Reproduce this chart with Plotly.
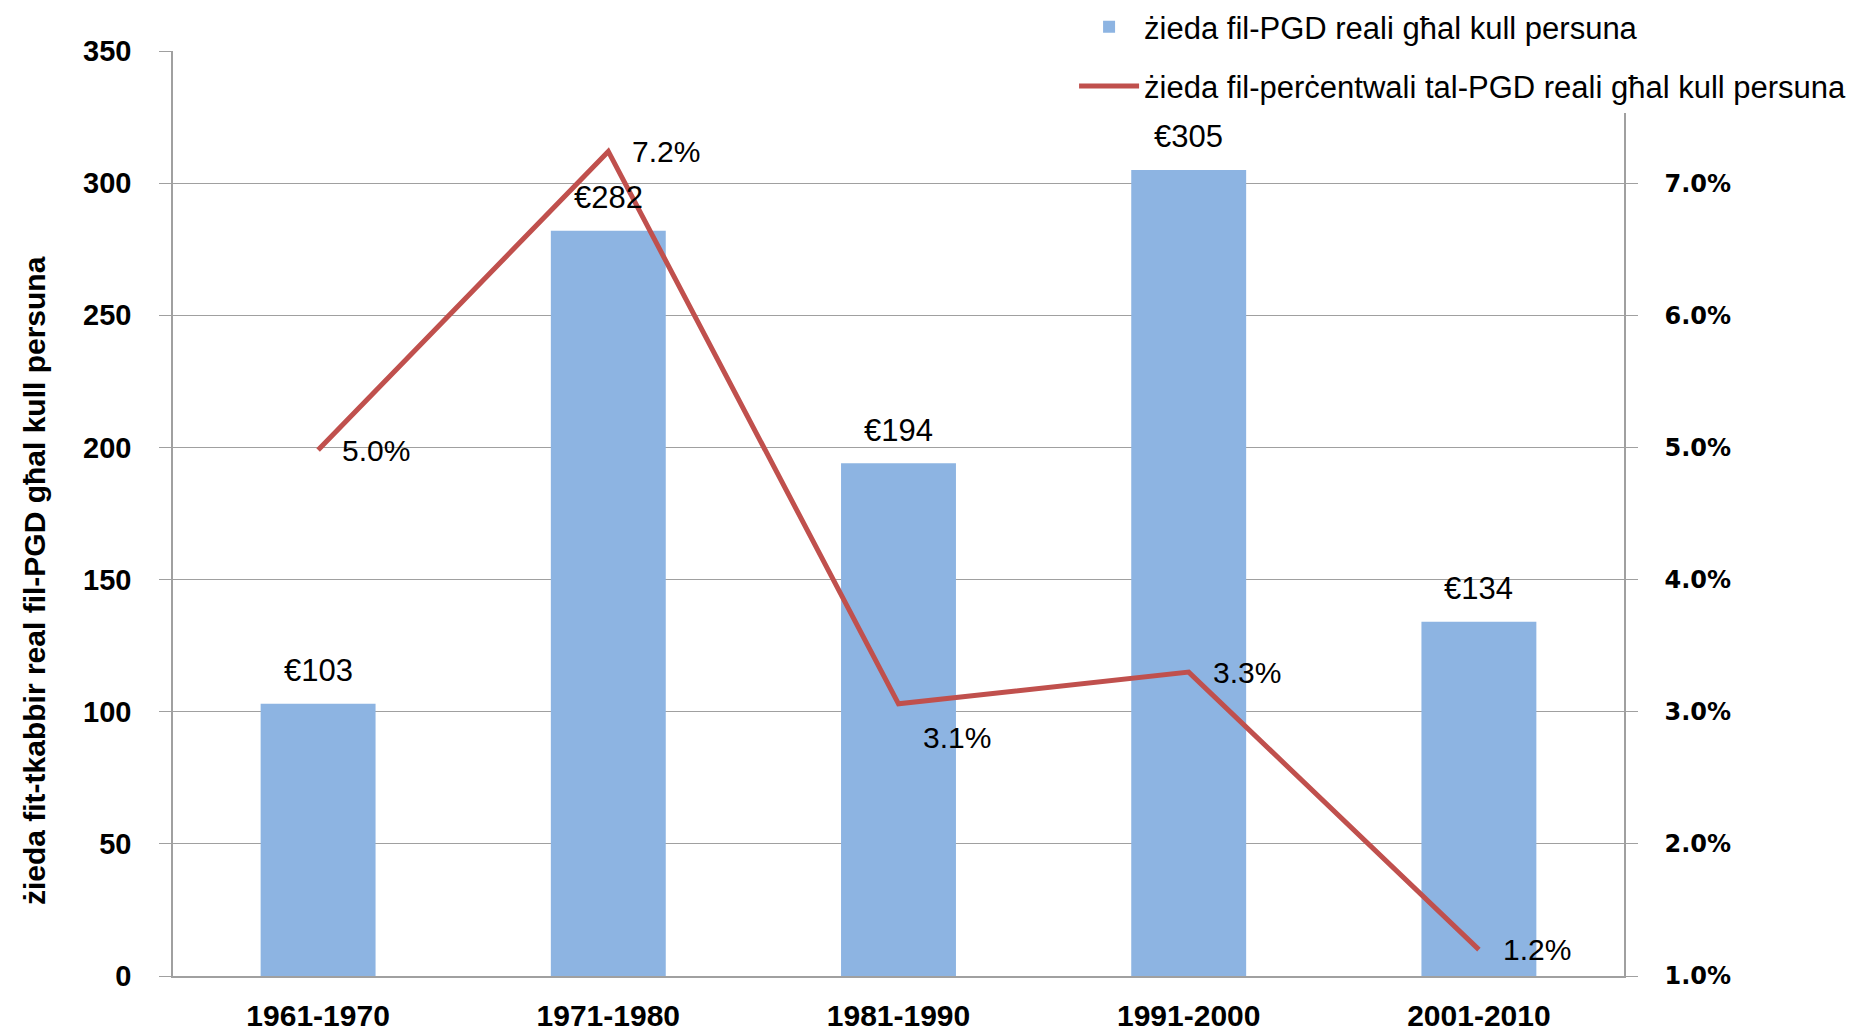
import plotly.graph_objects as go

categories = ["1961-1970", "1971-1980", "1981-1990", "1991-2000", "2001-2010"]
gdp_increase = [103, 282, 194, 305, 134]
gdp_increase_labels = ["€103", "€282", "€194", "€305", "€134"]
pct_increase = [0.0498, 0.0724, 0.0306, 0.0330, 0.0120]
pct_labels = ["5.0%", "7.2%", "3.1%", "3.3%", "1.2%"]
pct_label_yshift = [0, 0, -34, 0, 0]

bar_name = "żieda fil-PGD reali għal kull persuna"
line_name = "żieda fil-perċentwali tal-PGD reali għal kull persuna"
y_title = "żieda fit-tkabbir real fil-PGD għal kull persuna"
right_ticks = [0.01, 0.02, 0.03, 0.04, 0.05, 0.06, 0.07]

BAR_COLOR = "#8DB4E2"
LINE_COLOR = "#C0504D"
AXIS_GREY = "#A0A0A0"
FONT = "Liberation Sans"

fig = go.Figure()
fig.add_trace(go.Bar(
    x=categories, y=gdp_increase, name=bar_name,
    marker=dict(color=BAR_COLOR, line=dict(width=0)),
    legendgroup="a", yaxis="y",
))
fig.add_trace(go.Scatter(
    x=categories, y=pct_increase, name=line_name, mode="lines",
    line=dict(color=LINE_COLOR, width=5),
    legendgroup="b", yaxis="y2",
))

annotations = []
for c, v, t in zip(categories, gdp_increase, gdp_increase_labels):
    annotations.append(dict(
        x=c, y=v, xref="x", yref="y", text=t, showarrow=False,
        yanchor="middle", yshift=33,
        font=dict(family=FONT, size=31, color="#000000"),
    ))
for c, v, t, ys in zip(categories, pct_increase, pct_labels, pct_label_yshift):
    annotations.append(dict(
        x=c, y=v, xref="x", yref="y2", text=t, showarrow=False,
        xanchor="left", yanchor="middle", xshift=22, yshift=ys,
        font=dict(family=FONT, size=30, color="#000000"),
    ))
# left axis title (placed like the reference, below the axis centre)
annotations.append(dict(
    x=-0.0958, y=0.428, xref="paper", yref="paper", text=y_title,
    showarrow=False, textangle=-90, xanchor="center", yanchor="middle",
    font=dict(family=FONT, size=30, color="#000000", weight="bold"),
))

fig.update_layout(
    width=1872, height=1035,
    margin=dict(l=173, r=248, t=51, b=59, autoexpand=False),
    paper_bgcolor="white", plot_bgcolor="white",
    bargap=0.604,
    showlegend=True,
    legend=dict(
        x=0.621, y=1.055, xanchor="left", yanchor="top",
        bgcolor="white", borderwidth=0, itemwidth=60,
        font=dict(family=FONT, size=31, color="#000000"),
        traceorder="grouped", tracegroupgap=16,
    ),
    xaxis=dict(
        type="category", showline=True, linecolor=AXIS_GREY, linewidth=1.5,
        ticks="", showgrid=False, ticklabelstandoff=12, automargin=False,
        tickfont=dict(family=FONT, size=30, color="#000000", weight="bold"),
    ),
    yaxis=dict(
        range=[0, 350], dtick=50, showgrid=True, gridcolor=AXIS_GREY, gridwidth=1,
        showline=True, linecolor=AXIS_GREY, linewidth=1.5,
        ticks="outside", ticklen=12, tickcolor=AXIS_GREY, ticklabelstandoff=22,
        zeroline=False, automargin=False,
        tickfont=dict(family=FONT, size=29, color="#000000", weight="bold"),
    ),
    yaxis2=dict(
        overlaying="y", side="right", range=[0.01, 0.08],
        tickvals=right_ticks, tickformat=".1%", showgrid=False, zeroline=False,
        showline=True, linecolor=AXIS_GREY, linewidth=1.5, automargin=False,
        ticks="outside", ticklen=12, tickcolor=AXIS_GREY, ticklabelstandoff=22,
        tickfont=dict(family="DejaVu Sans", size=24, color="#000000", weight="bold"),
    ),
    annotations=annotations,
)

fig.write_html("out.html", config={"displayModeBar": False},
               post_script="document.body.style.margin='0';")
